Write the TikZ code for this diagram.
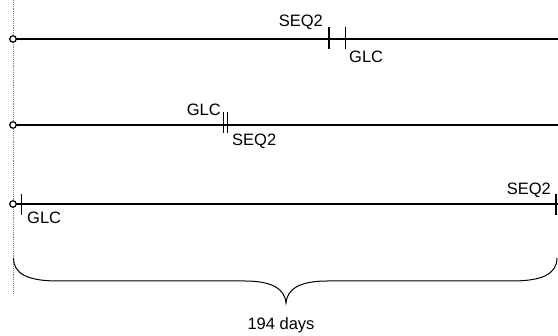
\documentclass[tikz,border=0pt]{standalone}
\usepackage{fontspec}
\setmainfont{Liberation Sans}
\begin{document}
\begin{tikzpicture}[x=1pt,y=-1pt,
  timeline/.style={line width=1.8pt},
  marker/.style={line width=1.5pt},
  origin/.style={circle,draw,line width=1.2pt,fill=white,minimum size=6.5pt,inner sep=0pt},
  lbl/.style={inner sep=0pt,font=\fontsize{16.5}{16.5}\selectfont},
  brace/.style={line width=1pt}]
\useasboundingbox (0,0) rectangle (558,336);
% dotted reference line
\coordinate (dtop) at (13,0);
\coordinate (dbot) at (13,293);
\draw[gray,densely dotted,line width=0.9pt] (dtop) -- (dbot);
% row 1
\coordinate (r1s) at (13,39);
\coordinate (r1e) at (558,39);
\draw[timeline] (r1s) -- (r1e);
\node[origin] (o1) at (r1s) {};
\coordinate (t1a) at (329,39);
\coordinate (t1b) at (345.5,39);
\draw[marker] ([yshift=-10]t1a) -- ([yshift=12]t1a);
\draw[marker] ([yshift=-10]t1b) -- ([yshift=12]t1b);
\node[lbl,anchor=base east] (seq1) at (323,27) {SEQ2};
\node[lbl,anchor=base west] (glc1) at (349,63) {GLC};
% row 2
\coordinate (r2s) at (13,125);
\coordinate (r2e) at (558,125);
\draw[timeline] (r2s) -- (r2e);
\node[origin] (o2) at (r2s) {};
\coordinate (t2a) at (223.3,125);
\coordinate (t2b) at (227.3,125);
\draw[marker] ([yshift=-8]t2a) -- ([yshift=13]t2a);
\draw[marker] ([yshift=-8]t2b) -- ([yshift=13]t2b);
\node[lbl,anchor=base east] (glc2) at (221,116) {GLC};
\node[lbl,anchor=base west] (seq2) at (232,146) {SEQ2};
% row 3
\coordinate (r3s) at (13,204);
\coordinate (r3e) at (558,204);
\draw[timeline] (r3s) -- (r3e);
\coordinate (t3a) at (21.7,204);
\coordinate (t3b) at (556,204);
\draw[marker] ([yshift=-11]t3a) -- ([yshift=10]t3a);
\draw[marker] ([yshift=-11]t3b) -- ([yshift=10]t3b);
\node[origin] (o3) at (r3s) {};
\node[lbl,anchor=base west] (glc3) at (27,224) {GLC};
\node[lbl,anchor=base east] (seq3) at (551,195) {SEQ2};
% brace
\coordinate (bl) at (13.5,258);
\coordinate (br) at (557,258);
\coordinate (btip) at (286,303);
\draw[brace] (bl) .. controls (13.5,274) and (28,281) .. (58,281) -- (245,281)
  .. controls (272,281) and (285,289) .. (btip)
  .. controls (287,289) and (300,281) .. (327,281) -- (512,281)
  .. controls (542,281) and (557,274) .. (br);
\node[lbl,anchor=base] (days) at (281,330) {194 days};
\end{tikzpicture}
\end{document}
